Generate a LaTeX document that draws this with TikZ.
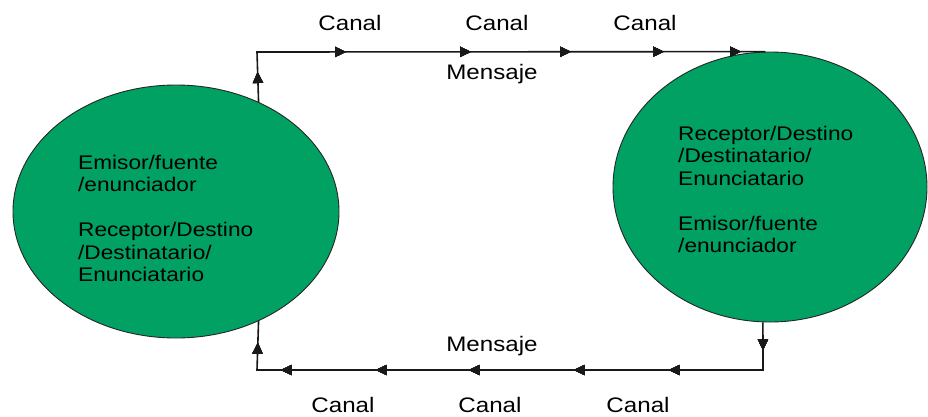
\documentclass[tikz,border=0pt]{standalone}
\usepackage{fontspec}
\setmainfont[FakeStretch=1.15]{Liberation Sans}
\usetikzlibrary{shapes.geometric,arrows.meta,decorations.markings}
\definecolor{blobgreen}{RGB}{0,161,99}
\tikzset{
  blob/.style={ellipse,draw=black!85,line width=0.9pt,fill=blobgreen,inner sep=0pt},
  intext/.style={anchor=base west,inner sep=0pt,font=\fontsize{19.7}{22.5}\selectfont},
  lbl/.style={anchor=base,inner sep=0pt,font=\fontsize{21}{24}\selectfont},
  wire/.style={line width=1.6pt,draw=black!90},
  tipm/.style={decoration={markings,mark=at position #1 with {\arrow{Triangle[length=11pt,width=10pt]}}},postaction={decorate}}
}
\begin{document}
\begin{tikzpicture}[x=1pt,y=-1pt]
\useasboundingbox (0,0) rectangle (928,416);
% ellipses
\node[blob,minimum width=326pt,minimum height=253pt] (L) at (176,211.5) {};
\node[blob,minimum width=314pt,minimum height=270pt] (R) at (770,187) {};
% left text
\node[intext] (l1) at (78,169) {Emisor/fuente};
\node[intext] (l2) at (78,191.5) {/enunciador};
\node[intext] (l3) at (78,236.5) {Receptor/Destino};
\node[intext] (l4) at (78,259) {/Destinatario/};
\node[intext] (l5) at (78,281.5) {Enunciatario};
% right text
\node[intext] (r1) at (678,140) {Receptor/Destino};
\node[intext] (r2) at (678,162.5) {/Destinatario/};
\node[intext] (r3) at (678,185) {Enunciatario};
\node[intext] (r4) at (678,230) {Emisor/fuente};
\node[intext] (r5) at (678,252.5) {/enunciador};
% corners
\coordinate (tl) at (257,52);
\coordinate (br) at (763,370);
\coordinate (bl) at (257,370);
% top connector
\draw[wire,tipm=30pt,tipm=139pt,tipm=264pt,tipm=364pt,tipm=457pt,tipm=534pt]
  (L.53.58) -- (tl) -- (R.92.97);
% bottom connector
\draw[wire,tipm=28pt,tipm=142pt,tipm=237pt,tipm=342pt,tipm=435pt,tipm=530pt,tipm=581pt]
  (R.267.03) -- (br) -- (bl) -- (L.-53.58);
% labels
\node[lbl] (c1) at (350,30) {Canal};
\node[lbl] (c2) at (497,30) {Canal};
\node[lbl] (c3) at (645,30) {Canal};
\node[lbl] (m1) at (492,79) {Mensaje};
\node[lbl] (m2) at (492,351) {Mensaje};
\node[lbl] (c4) at (343,412.5) {Canal};
\node[lbl] (c5) at (490,412.5) {Canal};
\node[lbl] (c6) at (638,412.5) {Canal};
\end{tikzpicture}
\end{document}
